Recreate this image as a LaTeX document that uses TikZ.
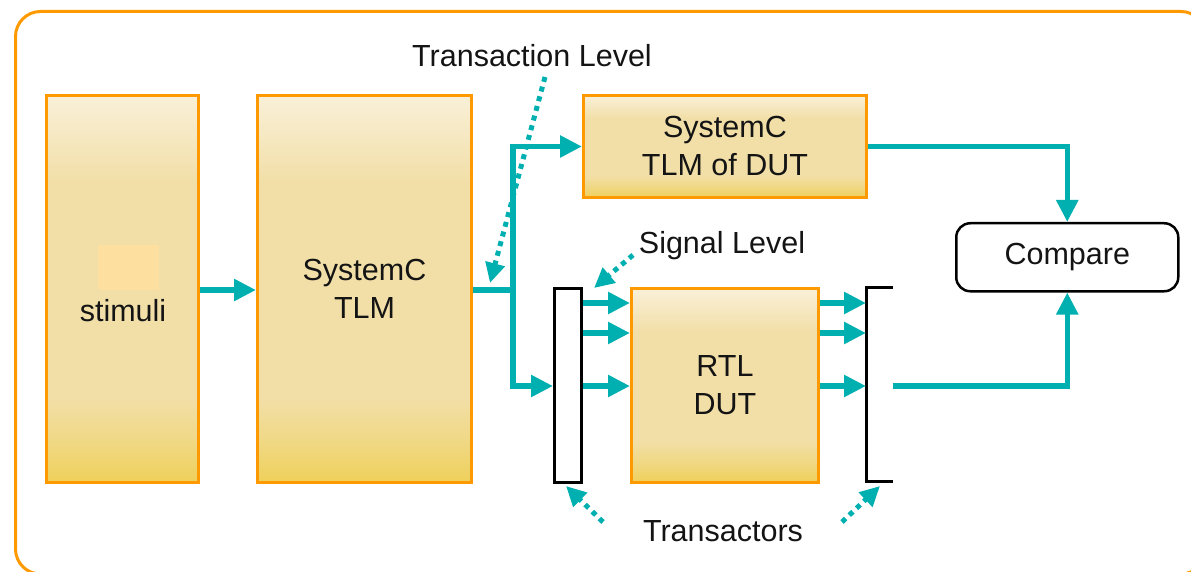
\documentclass[tikz,border=0pt]{standalone}
\usepackage{fontspec}
\setmainfont{Liberation Sans}
\usetikzlibrary{arrows.meta}

\definecolor{teal1}{RGB}{0,176,176}
\definecolor{frameorange}{RGB}{255,153,0}
\definecolor{shTop}{RGB}{249,240,216}
\definecolor{shMid}{RGB}{242,223,168}
\definecolor{shLow}{RGB}{240,216,130}
\definecolor{shBot}{RGB}{239,208,90}
\definecolor{padfill}{RGB}{253,223,160}
\definecolor{ink}{RGB}{20,20,20}

% light cream at the top, warm yellow towards the bottom
\pgfdeclareverticalshading{boxfill}{100bp}{%
  color(0bp)=(shBot); color(25bp)=(shBot); color(30bp)=(shLow);
  color(36bp)=(shMid); color(64bp)=(shMid); color(75bp)=(shTop);
  color(100bp)=(shTop)}

\newcommand\lblfont{\fontsize{30.5}{38}\selectfont}

\begin{document}
\begin{tikzpicture}[x=1pt,y=-1pt,
  block/.style={draw=frameorange, line width=3pt, shading=boxfill,
    inner sep=0pt, anchor=north west, align=center, font=\lblfont,
    text=ink},
  xactor/.style={inner sep=0pt, anchor=north west},
  lbl/.style={font=\lblfont, inner sep=0pt, text=ink},
  link/.style={draw=teal1, line width=5.5pt,
    -{Triangle[length=22pt,width=21pt]}},
  wire/.style={draw=teal1, line width=5.5pt},
  pointer/.style={draw=teal1, line width=5pt, dash pattern=on 5pt off 5pt,
    -{Triangle[length=20pt,width=19pt]}}]

\useasboundingbox (0,0) rectangle (1191,572);

% outer frame
\draw[frameorange, line width=3pt, rounded corners=25pt]
  (15.5,11.5) rectangle (1206,574);

% blocks
\node[block, minimum width=152pt, minimum height=387pt] (stim) at (45,94) {};
\node[fill=padfill, inner sep=0pt, anchor=north west,
  minimum width=61pt, minimum height=45pt] (stimpad) at (98,245) {};
\node[lbl] (stimtxt) at (123,311) {stimuli};
\node[block, minimum width=214pt, minimum height=387pt] (tlm) at (256,94)
  {SystemC\\TLM};
\node[block, minimum width=283pt, minimum height=102pt] (tlmdut) at (582,94)
  {SystemC\\TLM of DUT};
\node[block, minimum width=187pt, minimum height=194pt] (rtl) at (630,287)
  {RTL\\DUT};

% transactors
\node[xactor, draw=black, fill=white, line width=3pt,
  minimum width=27pt, minimum height=194pt] (xl) at (553,287) {};
\node[xactor, minimum width=27pt, minimum height=194pt] (xr) at (866,287) {};
\draw[black, line width=3pt]
  (xr.north east) -- (xr.north west) -- (xr.south west) -- (xr.south east);

% comparator
\node[draw=black, line width=2.5pt, rounded corners=14pt, inner sep=0pt,
  anchor=north west, minimum width=222pt, minimum height=68pt,
  font=\lblfont, text=ink] (cmp) at (955,222) {Compare};

% labels
\node[lbl] (tlabel) at (532,56) {Transaction Level};
\node[lbl] (slabel) at (722,246) {Signal Level};
\node[lbl] (xlabel) at (723,531) {Transactors};

% signal rows
\coordinate (r1) at (0,303);
\coordinate (r2) at (0,333);
\coordinate (r3) at (0,386);
\coordinate (j) at (513,290);

% data flow
\draw[link] (stim.east |- j) -- (tlm.west |- j);
\draw[wire] (tlm.east |- j) -- (j);
\draw[link] (j) |- (tlmdut.west);
\draw[link] (j) |- (xl.west |- r3);
\foreach \r in {r1,r2,r3} {
  \draw[link] (xl.east |- \r) -- (rtl.west |- \r);
  \draw[link] (rtl.east |- \r) -- (xr.west |- \r);
}
\draw[link] (xr.east |- r3) -| (cmp.south);
\draw[link] (tlmdut.east) -| (cmp.north);

% annotation pointers
\coordinate (tfrom) at (545,77);
\coordinate (tto) at (490,283);
\coordinate (sfrom) at (633,255);
\coordinate (sto) at (594,288);
\coordinate (xlfrom) at (603,522);
\coordinate (xlto) at (566,486);
\coordinate (xrfrom) at (842,522);
\coordinate (xrto) at (880,486);
\draw[pointer] (tfrom) -- (tto);
\draw[pointer] (sfrom) -- (sto);
\draw[pointer] (xlfrom) -- (xlto);
\draw[pointer] (xrfrom) -- (xrto);
\end{tikzpicture}
\end{document}
